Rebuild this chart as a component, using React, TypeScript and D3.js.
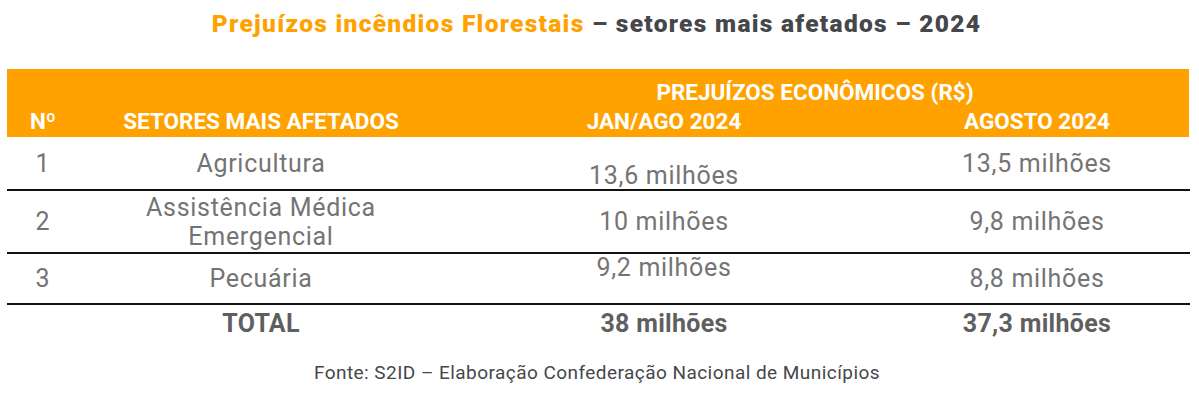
import React from "react";
import * as d3 from "d3";

// ---- data ----
const titleHighlight = "Prejuízos incêndios Florestais";
const titleRest = " – setores mais afetados – 2024";
const headerGroup = "PREJUÍZOS ECONÔMICOS (R$)";
const headers = ["Nº", "SETORES MAIS AFETADOS", "JAN/AGO 2024", "AGOSTO 2024"];
const ranks = ["1", "2", "3"];
const sectors: string[][] = [["Agricultura"], ["Assistência Médica", "Emergencial"], ["Pecuária"]];
const janAgo = [13.6, 10, 9.2];
const agosto = [13.5, 9.8, 8.8];
const totalLabel = "TOTAL";
const totals = [38, 37.3];
const unit = "milhões";
const source = "Fonte: S2ID – Elaboração Confederação Nacional de Municípios";

// ---- layout ----
const W = 1199;
const H = 416;
const tableLeft = 7;
const tableRight = 1190;
const headerTop = 69;
const headerBottom = 137;
const rowHeights = [53, 63, 51];
const totalHeight = 50;
const lineGap = 29;
const cellShift: Record<string, number[]> = { jan: [12, 0, -11], ago: [0, 0, 0] };

const ORANGE = "#FFA200";
const BODY = "#747474";
const DARK = "#45474b";

const locale = d3.formatLocale({ decimal: ",", thousands: ".", grouping: [3], currency: ["R$", ""] });
const fmtNum = (v: number) => (Number.isInteger(v) ? locale.format("d")(v) : locale.format(".1f")(v));
const fmt = (v: number) => `${fmtNum(v)} ${unit}`;

const colX = d3.scaleOrdinal<string, number>().domain(["n", "sector", "jan", "ago"]).range([43, 261, 664, 1037]);

export default function App() {
  const rowTops = d3.cumsum([headerBottom, ...rowHeights]);
  const rows = ranks.map((r, i) => ({
    rank: r,
    sector: sectors[i],
    jan: janAgo[i],
    ago: agosto[i],
    top: rowTops[i],
    h: rowHeights[i],
  }));
  const totalTop = rowTops[rowTops.length - 1];
  const bodyFont = "Roboto, 'Open Sans', sans-serif";
  const headFont = "Roboto, sans-serif";
  const bodyProps = { fill: BODY, fontFamily: bodyFont, fontSize: 25, letterSpacing: 0.7, textAnchor: "middle" as const };
  const totalProps = { fill: "#5f5f5f", fontFamily: bodyFont, fontSize: 25, fontWeight: 700, letterSpacing: 0.3, textAnchor: "middle" as const };
  const headProps = { fill: "#fff", fontFamily: headFont, fontWeight: 700, fontSize: 22.5, textAnchor: "middle" as const };

  return (
    <svg width={W} height={H} style={{ position: "absolute", left: 0, top: 0, background: "#fff" }}>
      <rect x={0} y={0} width={W} height={H} fill="#fff" />
      <text x={W / 2 - 3} y={32} textAnchor="middle" fontFamily={bodyFont} fontWeight={900} fontSize={24.5} letterSpacing={1.3}>
        <tspan fill={ORANGE}>{titleHighlight}</tspan>
        <tspan fill={DARK}>{titleRest}</tspan>
      </text>

      <rect x={tableLeft} y={headerTop} width={1189 - tableLeft} height={headerBottom - headerTop} fill={ORANGE} />
      <text x={815} y={100} {...headProps}>
        {headerGroup}
      </text>
      {headers.map((h, i) => (
        <text key={h} x={colX(["n", "sector", "jan", "ago"][i])} y={129} {...headProps}>
          {h}
        </text>
      ))}

      {rows.map((r, i) => {
        const base = r.top + r.h / 2 + 8.5;
        return (
          <g key={r.rank}>
            <text x={colX("n")} y={base} {...bodyProps}>
              {r.rank}
            </text>
            {r.sector.map((s, j) => (
              <text key={s} x={colX("sector")} y={base + (j - (r.sector.length - 1) / 2) * lineGap} {...bodyProps}>
                {s}
              </text>
            ))}
            <text x={colX("jan")} y={base + cellShift.jan[i]} {...bodyProps}>
              {fmt(r.jan)}
            </text>
            <text x={colX("ago")} y={base + cellShift.ago[i]} {...bodyProps}>
              {fmt(r.ago)}
            </text>
            <line x1={tableLeft} x2={tableRight} y1={r.top + r.h} y2={r.top + r.h} stroke="#111" strokeWidth={2} />
          </g>
        );
      })}

      <g>
        <text x={colX("sector")} y={totalTop + totalHeight / 2 + 3} {...totalProps}>
          {totalLabel}
        </text>
        {["jan", "ago"].map((c, i) => (
          <text key={c} x={colX(c)} y={totalTop + totalHeight / 2 + 3} {...totalProps}>
            {fmt(totals[i])}
          </text>
        ))}
      </g>

      <text x={597} y={379} textAnchor="middle" fill={DARK} fontFamily={bodyFont} fontSize={19} letterSpacing={0.45}>
        {source}
      </text>
    </svg>
  );
}
